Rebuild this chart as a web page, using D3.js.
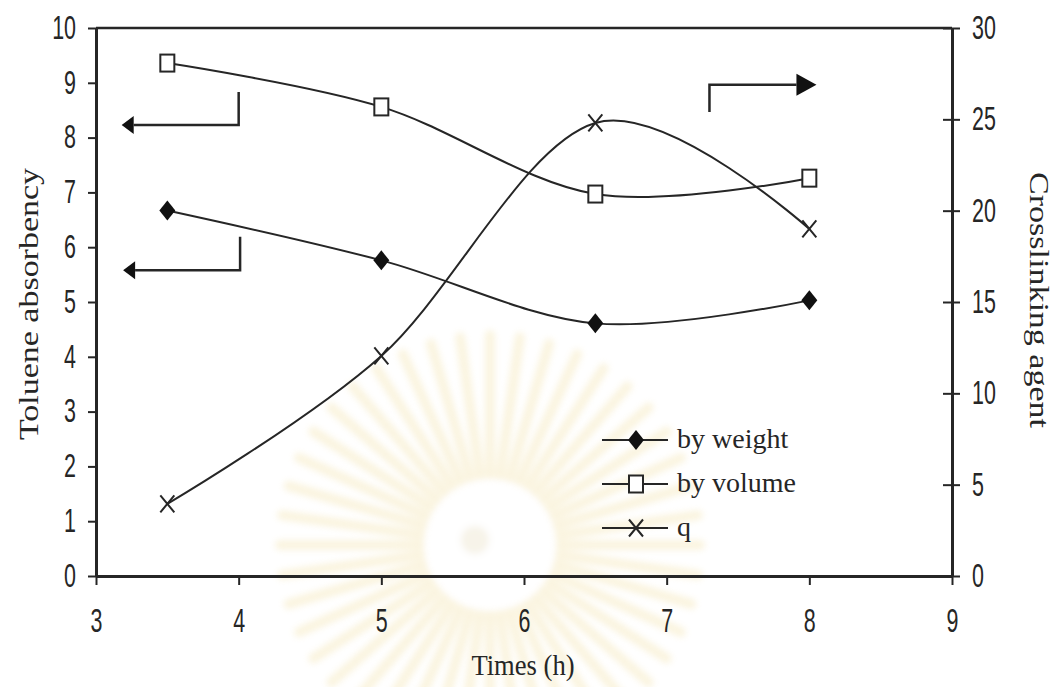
<!DOCTYPE html>
<html>
<head>
<meta charset="utf-8">
<script src="https://cdn.jsdelivr.net/npm/d3@7/dist/d3.min.js"></script>
<style>
  html, body { margin: 0; padding: 0; background: #fff; }
  svg { display: block; }
</style>
</head>
<body>
<svg id="chart" width="1058" height="687"></svg>
<script>
// ---- data ----
const times = [3.5, 5, 6.5, 8];
const byWeight = [6.67, 5.76, 4.61, 5.03];
const byVolume = [9.36, 8.56, 6.97, 7.26];
const qValues = [3.95, 12.05, 24.8, 19.0];
const xTicks = [3, 4, 5, 6, 7, 8, 9];
const leftTicks = [0, 1, 2, 3, 4, 5, 6, 7, 8, 9, 10];
const rightTicks = [0, 5, 10, 15, 20, 25, 30];
const legendLabels = ["by weight", "by volume", "q"];
// annotation arrows in data units: [x0, y0, xCorner, yCorner, xTip, yTip]
const arrowLeftUpper = [4, 8.83, 4, 8.23, 3.18, 8.23];
const arrowLeftLower = [4.01, 6.19, 4.01, 5.58, 3.19, 5.58];
const arrowRight = [7.3, 25.4, 7.3, 26.9, 8.05, 26.9];

const svg = d3.select("#chart");
const x = d3.scaleLinear().domain([3, 9]).range([96, 952]);
const yL = d3.scaleLinear().domain([0, 10]).range([576, 28]);
const yR = d3.scaleLinear().domain([0, 30]).range([576, 28]);

const ink = "#262626";
const sans = "'Liberation Sans', Arial, sans-serif";
const serif = "'Liberation Serif', 'DejaVu Serif', serif";

// ---- faint watermark ----
const defs = svg.append("defs");
defs.append("filter").attr("id", "soft").append("feGaussianBlur").attr("stdDeviation", 3);
const wm = svg.append("g").attr("opacity", 0.3).attr("filter", "url(#soft)");
const cx = 490, cy = 545;
for (let i = 0; i < 44; i++) {
  const a = (i / 44) * Math.PI * 2;
  wm.append("line")
    .attr("x1", cx + Math.cos(a) * 70).attr("y1", cy + Math.sin(a) * 70)
    .attr("x2", cx + Math.cos(a) * 210).attr("y2", cy + Math.sin(a) * 210)
    .attr("stroke", "#f0dc98").attr("stroke-width", 10).attr("stroke-linecap", "round");
}
wm.append("circle").attr("cx", cx).attr("cy", cy).attr("r", 62).attr("fill", "#fff");
wm.append("circle").attr("cx", cx - 15).attr("cy", cy - 5).attr("r", 14).attr("fill", "#e6dab8");

// ---- axes ----
const axL = d3.axisLeft(yL).tickValues(leftTicks).tickSize(8).tickSizeOuter(0).tickPadding(12);
const axR = d3.axisRight(yR).tickValues(rightTicks).tickSize(8).tickSizeOuter(0).tickPadding(12);
const axB = d3.axisBottom(x).tickValues(xTicks).tickSize(9).tickSizeOuter(0).tickPadding(24).tickFormat(d3.format("d"));

function styleAxis(g) {
  g.select(".domain").attr("stroke", ink).attr("stroke-width", 3);
  g.selectAll(".tick line").attr("stroke", ink).attr("stroke-width", 2);
  g.selectAll(".tick text").attr("fill", ink).style("font-family", sans).style("font-size", "29px")
    .each(function () {
      const t = d3.select(this);
      const tx = +t.attr("x") || 0, ty = +t.attr("y") || 0;
      t.attr("x", 0).attr("y", 0).attr("transform", `translate(${tx},${ty}) scale(0.74,1.12)`);
    });
}

// top border
svg.append("line").attr("x1", x(3)).attr("x2", x(9)).attr("y1", yL(10)).attr("y2", yL(10))
  .attr("stroke", ink).attr("stroke-width", 2.5);

const gL = svg.append("g").attr("transform", `translate(${x(3)},0)`).call(axL).call(styleAxis);
const gR = svg.append("g").attr("transform", `translate(${x(9)},0)`).call(axR).call(styleAxis);
// right ticks cross the axis
gR.selectAll(".tick").append("line").attr("x1", -9).attr("x2", 0).attr("stroke", ink).attr("stroke-width", 2);
const gB = svg.append("g").attr("transform", `translate(0,${yL(0)})`).call(axB).call(styleAxis);

// ---- axis titles ----
svg.append("text").attr("transform", `translate(38,${(168 + 440) / 2}) rotate(-90)`)
  .attr("text-anchor", "middle").attr("fill", ink)
  .style("font-family", serif).style("font-size", "28px")
  .attr("textLength", 272).attr("lengthAdjust", "spacingAndGlyphs")
  .text("Toluene absorbency");
svg.append("text").attr("transform", `translate(1030,${(172 + 428) / 2}) rotate(90)`)
  .attr("text-anchor", "middle").attr("fill", ink)
  .style("font-family", serif).style("font-size", "28px")
  .attr("textLength", 256).attr("lengthAdjust", "spacingAndGlyphs")
  .text("Crosslinking agent");
svg.append("text").attr("transform", "translate(523,675) scale(0.95,1.08)")
  .attr("text-anchor", "middle").attr("fill", ink)
  .style("font-family", serif).style("font-size", "28px")
  .text("Times (h)");

// ---- series ----
const curve = d3.curveCardinal.tension(0);
const lineL = d3.line().x(d => x(d[0])).y(d => yL(d[1])).curve(curve);
const lineR = d3.line().x(d => x(d[0])).y(d => yR(d[1])).curve(curve);

const weightPts = times.map((t, i) => [t, byWeight[i]]);
const volumePts = times.map((t, i) => [t, byVolume[i]]);
const qPts = times.map((t, i) => [t, qValues[i]]);

svg.append("path").attr("d", lineL(weightPts)).attr("fill", "none").attr("stroke", ink).attr("stroke-width", 2);
svg.append("path").attr("d", lineL(volumePts)).attr("fill", "none").attr("stroke", ink).attr("stroke-width", 2);
svg.append("path").attr("d", lineR(qPts)).attr("fill", "none").attr("stroke", ink).attr("stroke-width", 2);

function diamond(g, px, py) {
  g.append("path").attr("d", `M${px},${py - 10}L${px + 8},${py}L${px},${py + 10}L${px - 8},${py}Z`).attr("fill", "#111");
}
function square(g, px, py) {
  g.append("rect").attr("x", px - 7).attr("y", py - 8.5).attr("width", 14).attr("height", 17)
    .attr("fill", "#fff").attr("stroke", ink).attr("stroke-width", 2);
}
function cross(g, px, py) {
  g.append("path").attr("d", `M${px - 7},${py - 8.5}L${px + 7},${py + 8.5}M${px + 7},${py - 8.5}L${px - 7},${py + 8.5}`)
    .attr("stroke", ink).attr("stroke-width", 2).attr("fill", "none");
}
const mk = svg.append("g");
weightPts.forEach(d => diamond(mk, x(d[0]), yL(d[1])));
volumePts.forEach(d => square(mk, x(d[0]), yL(d[1])));
qPts.forEach(d => cross(mk, x(d[0]), yR(d[1])));

// ---- annotation arrows ----
function arrow(a, ys, headLen, headHalf) {
  const p0 = [x(a[0]), ys(a[1])], p1 = [x(a[2]), ys(a[3])], p2 = [x(a[4]), ys(a[5])];
  const dir = Math.sign(p2[0] - p1[0]);
  const base = p2[0] - dir * headLen;
  svg.append("path").attr("d", `M${p0[0]},${p0[1]}L${p1[0]},${p1[1]}L${base},${p2[1]}`)
    .attr("fill", "none").attr("stroke", ink).attr("stroke-width", 2.5);
  svg.append("path").attr("d", `M${p2[0]},${p2[1]}L${base},${p2[1] - headHalf}L${base},${p2[1] + headHalf}Z`).attr("fill", "#111");
}
arrow(arrowLeftUpper, yL, 12, 9);
arrow(arrowLeftLower, yL, 12, 9);
arrow(arrowRight, yR, 20, 11);

// ---- legend ----
const legendY = [440, 484, 528];
const lg = svg.append("g");
legendLabels.forEach((lab, i) => {
  const yy = legendY[i];
  lg.append("line").attr("x1", 602).attr("x2", 668).attr("y1", yy).attr("y2", yy).attr("stroke", ink).attr("stroke-width", 2);
  if (i === 0) diamond(lg, 636, yy);
  if (i === 1) square(lg, 636, yy);
  if (i === 2) cross(lg, 636, yy);
  lg.append("text").attr("x", 677).attr("y", yy).attr("dy", "0.3em").attr("fill", ink)
    .style("font-family", serif).style("font-size", "28px").text(lab);
});
</script>
</body>
</html>
